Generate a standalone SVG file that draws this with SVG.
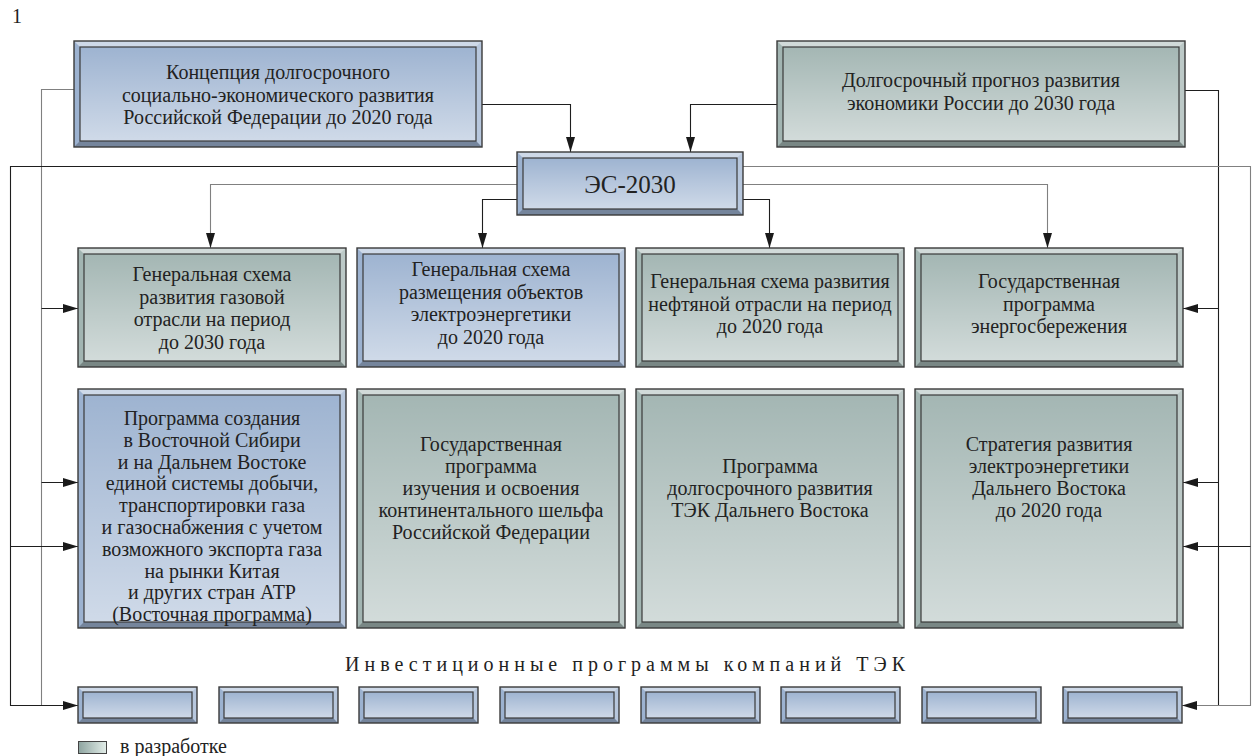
<svg xmlns="http://www.w3.org/2000/svg" width="1254" height="756" viewBox="0 0 1254 756">
<style>
.t{font-family:"Liberation Serif","Times New Roman",serif;font-size:20px;fill:#222;text-anchor:middle}
.bt{fill:#fff;fill-opacity:.5}
.br{fill:#fff;fill-opacity:.28}
.bb{fill:#000;fill-opacity:.25}
.face{fill:url(#sheen);stroke:#3a3a3a;stroke-width:1.2}
.edge{fill:none;stroke:#3a3a3a;stroke-width:1.4}
.blue{fill:#9cb2d0}
.green{fill:#a2b5b2}
.ln{fill:none;stroke:#1e1e1e;stroke-width:1.1}
.lg{fill:none;stroke:#808080;stroke-width:1.1}
.arr{marker-end:url(#ah)}
</style>
<defs>
<linearGradient id="sheen" x1="0" y1="0" x2="0" y2="1">
<stop offset="0" stop-color="#fff" stop-opacity="0.02"/>
<stop offset="1" stop-color="#fff" stop-opacity="0.52"/>
</linearGradient>
<linearGradient id="leg" x1="0" y1="0" x2="1" y2="0">
<stop offset="0" stop-color="#8ea4a0"/>
<stop offset="1" stop-color="#e2ede8"/>
</linearGradient>
<marker id="ah" viewBox="0 0 15 9" refX="15" refY="4.5" markerWidth="15" markerHeight="9" markerUnits="userSpaceOnUse" orient="auto">
<path d="M0,0 L15,4.5 L0,9 z" fill="#1a1a1a"/>
</marker>
<symbol id="sB" overflow="visible">
<rect width="408" height="106"/>
<polygon class="bt" points="0,0 408,0 402,6 6,6"/>
<polygon class="br" points="408,0 408,106 402,100 402,6"/>
<polygon class="bb" points="0,106 408,106 402,100 6,100"/>
<rect class="face" x="6" y="6" width="396" height="94"/>
<rect class="edge" width="408" height="106"/>
</symbol>
<symbol id="sE" overflow="visible">
<rect width="226" height="63"/>
<polygon class="bt" points="0,0 226,0 220,6 6,6"/>
<polygon class="br" points="226,0 226,63 220,57 220,6"/>
<polygon class="bb" points="0,63 226,63 220,57 6,57"/>
<rect class="face" x="6" y="6" width="214" height="51"/>
<rect class="edge" width="226" height="63"/>
</symbol>
<symbol id="s1" overflow="visible">
<rect width="268" height="119"/>
<polygon class="bt" points="0,0 268,0 262,6 6,6"/>
<polygon class="br" points="268,0 268,119 262,113 262,6"/>
<polygon class="bb" points="0,119 268,119 262,113 6,113"/>
<rect class="face" x="6" y="6" width="256" height="107"/>
<rect class="edge" width="268" height="119"/>
</symbol>
<symbol id="s2" overflow="visible">
<rect width="268" height="239"/>
<polygon class="bt" points="0,0 268,0 262,6 6,6"/>
<polygon class="br" points="268,0 268,239 262,233 262,6"/>
<polygon class="bb" points="0,239 268,239 262,233 6,233"/>
<rect class="face" x="6" y="6" width="256" height="227"/>
<rect class="edge" width="268" height="239"/>
</symbol>
<symbol id="s3" overflow="visible">
<rect width="119" height="36"/>
<polygon class="bt" points="0,0 119,0 114,5 5,5"/>
<polygon class="br" points="119,0 119,36 114,31 114,5"/>
<polygon class="bb" points="0,36 119,36 114,31 5,31"/>
<rect class="face" x="5" y="5" width="109" height="26"/>
<rect class="edge" width="119" height="36"/>
</symbol>
</defs>
<rect width="1254" height="756" fill="#fff"/>
<text class="t" x="12" y="23" style="text-anchor:start">1</text>

<g id="connectors">
<path class="lg" d="M74,89.5 H41.5 V705.5"/>
<path class="ln arr" d="M517,166.5 H10.5 V705.5 H78"/>
<path class="ln arr" d="M41.5,308.5 H78"/>
<path class="ln arr" d="M41.5,482.5 H78"/>
<path class="ln arr" d="M10.5,546.5 H78"/>
<path class="ln" d="M1185,90.5 H1218.5 V705.5"/>
<path class="lg arr" d="M743,166.5 H1250.5 V705.5 H1182"/>
<path class="ln arr" d="M1218.5,308.5 H1183"/>
<path class="ln arr" d="M1218.5,482.5 H1183"/>
<path class="ln arr" d="M1250.5,546.5 H1183"/>
<path class="ln arr" d="M482,104.5 H570.5 V152"/>
<path class="ln arr" d="M777,104.5 H690.5 V152"/>
<path class="lg arr" d="M517,184.5 H210.5 V248"/>
<path class="ln arr" d="M517,199.5 H482.5 V248"/>
<path class="ln arr" d="M743,199.5 H769.5 V248"/>
<path class="lg arr" d="M743,184.5 H1047.5 V248"/>
</g>

<g id="n-concept">
<use href="#sB" x="74" y="41" class="blue"/>
<text class="t" x="278" y="79">Концепция долгосрочного</text>
<text class="t" x="278" y="101.5">социально-экономического развития</text>
<text class="t" x="278" y="124">Российской Федерации до 2020 года</text>
</g>
<g id="n-forecast">
<use href="#sB" x="777" y="41" class="green"/>
<text class="t" x="981" y="87">Долгосрочный прогноз развития</text>
<text class="t" x="981" y="109.5">экономики России до 2030 года</text>
</g>
<g id="n-es2030">
<use href="#sE" x="517" y="152" class="blue"/>
<text class="t" x="630" y="193" style="font-size:25px">ЭС-2030</text>
</g>

<g id="n-gas">
<use href="#s1" x="78" y="248" class="green"/>
<text class="t" x="212" y="281">Генеральная схема</text>
<text class="t" x="212" y="303.5">развития газовой</text>
<text class="t" x="212" y="326">отрасли на период</text>
<text class="t" x="212" y="348.5">до 2030 года</text>
</g>
<g id="n-power">
<use href="#s1" x="357" y="248" class="blue"/>
<text class="t" x="491" y="276">Генеральная схема</text>
<text class="t" x="491" y="298.5">размещения объектов</text>
<text class="t" x="491" y="321">электроэнергетики</text>
<text class="t" x="491" y="343.5">до 2020 года</text>
</g>
<g id="n-oil">
<use href="#s1" x="636" y="248" class="green"/>
<text class="t" x="770" y="288">Генеральная схема развития</text>
<text class="t" x="770" y="310.5">нефтяной отрасли на период</text>
<text class="t" x="770" y="333">до 2020 года</text>
</g>
<g id="n-saving">
<use href="#s1" x="915" y="248" class="green"/>
<text class="t" x="1049" y="288">Государственная</text>
<text class="t" x="1049" y="310.5">программа</text>
<text class="t" x="1049" y="333">энергосбережения</text>
</g>

<g id="n-east">
<use href="#s2" x="78" y="389" class="blue"/>
<text class="t" x="212" y="425">Программа создания</text>
<text class="t" x="212" y="446.8">в Восточной Сибири</text>
<text class="t" x="212" y="468.6">и на Дальнем Востоке</text>
<text class="t" x="212" y="490.4">единой системы добычи,</text>
<text class="t" x="212" y="512.2">транспортировки газа</text>
<text class="t" x="212" y="534">и газоснабжения с учетом</text>
<text class="t" x="212" y="555.8">возможного экспорта газа</text>
<text class="t" x="212" y="577.6">на рынки Китая</text>
<text class="t" x="212" y="599.4">и других стран АТР</text>
<text class="t" x="212" y="621.2">(Восточная программа)</text>
</g>
<g id="n-shelf">
<use href="#s2" x="357" y="389" class="green"/>
<text class="t" x="491" y="451">Государственная</text>
<text class="t" x="491" y="473">программа</text>
<text class="t" x="491" y="495">изучения и освоения</text>
<text class="t" x="491" y="517">континентального шельфа</text>
<text class="t" x="491" y="539">Российской Федерации</text>
</g>
<g id="n-fareast">
<use href="#s2" x="636" y="389" class="green"/>
<text class="t" x="770" y="473">Программа</text>
<text class="t" x="770" y="495">долгосрочного развития</text>
<text class="t" x="770" y="517">ТЭК Дальнего Востока</text>
</g>
<g id="n-strategy">
<use href="#s2" x="915" y="389" class="green"/>
<text class="t" x="1049" y="451">Стратегия развития</text>
<text class="t" x="1049" y="473">электроэнергетики</text>
<text class="t" x="1049" y="495">Дальнего Востока</text>
<text class="t" x="1049" y="517">до 2020 года</text>
</g>

<g id="n-invest-title">
<text class="t" x="345" y="671" textLength="560" lengthAdjust="spacing" style="text-anchor:start">Инвестиционные программы компаний ТЭК</text>
</g>
<g id="n-invest-1"><use href="#s3" x="78" y="687" class="blue"/></g>
<g id="n-invest-2"><use href="#s3" x="219" y="687" class="blue"/></g>
<g id="n-invest-3"><use href="#s3" x="359" y="687" class="blue"/></g>
<g id="n-invest-4"><use href="#s3" x="500" y="687" class="blue"/></g>
<g id="n-invest-5"><use href="#s3" x="641" y="687" class="blue"/></g>
<g id="n-invest-6"><use href="#s3" x="781" y="687" class="blue"/></g>
<g id="n-invest-7"><use href="#s3" x="922" y="687" class="blue"/></g>
<g id="n-invest-8"><use href="#s3" x="1063" y="687" class="blue"/></g>

<g id="legend">
<rect x="78.5" y="741.5" width="28" height="12" fill="url(#leg)" stroke="#444" stroke-width="1"/>
<text class="t" x="120" y="753" style="text-anchor:start">в разработке</text>
</g>
</svg>
